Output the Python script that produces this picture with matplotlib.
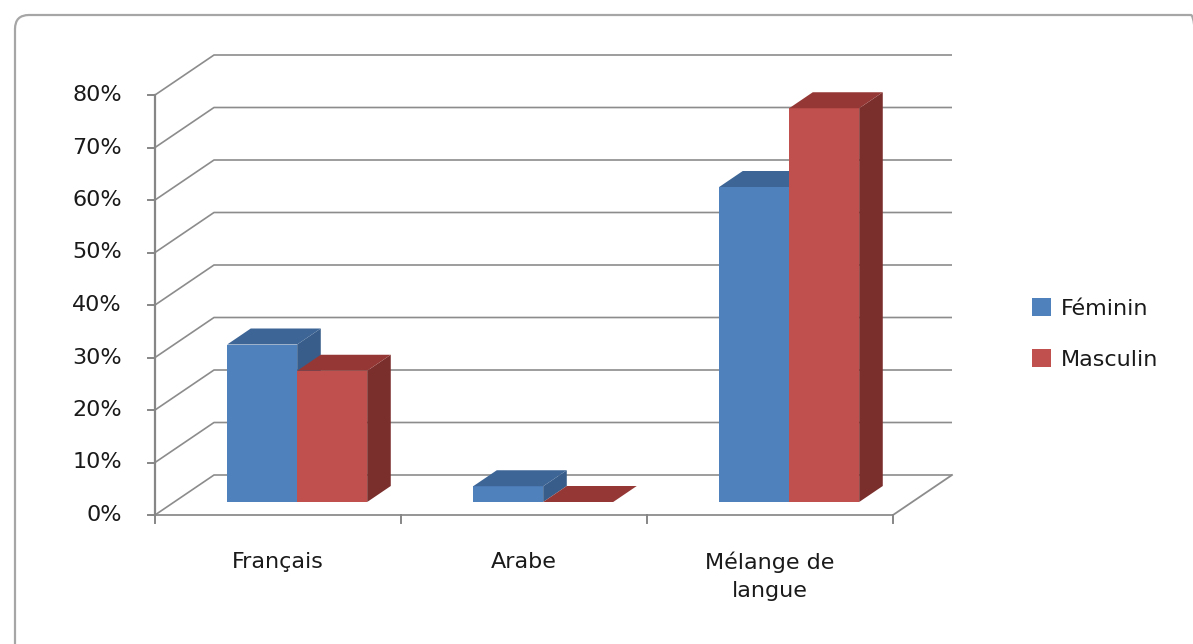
import matplotlib
matplotlib.use("Agg")
import matplotlib.pyplot as plt
from matplotlib.patches import Polygon, Patch, FancyBboxPatch

# --- data -------------------------------------------------------------
categories = ["Français", "Arabe", "Mélange de\nlangue"]
series_names = ["Féminin", "Masculin"]
feminin = [30, 3, 60]
masculin = [25, 0, 75]
y_ticks = [0, 10, 20, 30, 40, 50, 60, 70, 80]
y_tick_labels = [f"{v}%" for v in y_ticks]

# --- styling ----------------------------------------------------------
W, H, DPI = 1193, 644, 100
face_colors = {"Féminin": ("#4F81BD", "#3D6596", "#385D8A"),
               "Masculin": ("#C0504D", "#953835", "#7B2F2D")}
grid_color = "#8C8C8C"
text_color = "#1A1A1A"
FONT = 16

# oblique projection of the plot box: (x, value, depth) -> 2D data coords
DX = 59 / 246          # horizontal shift for full depth, in category units
DY = 40 / 5.25         # vertical shift for full depth, in percent units
BAR_W = 70 / 246
BAR_D0, BAR_D1 = 0.325, 0.725


def P(x, v, d):
    return (x + d * DX, v + d * DY)


fig = plt.figure(figsize=(W / DPI, H / DPI), dpi=DPI)
ax = fig.add_axes([0, 0, 1, 1])
ax.set_xlim((0 - 155) / 246 - 0.5, (W - 155) / 246 - 0.5)
ax.set_ylim((515 - H) / 5.25, (515 - 0) / 5.25)
ax.axis("off")

# chart frame (pixel coordinates, origin bottom-left)
frame = FancyBboxPatch((15, -40), 1190, H - 15 + 40,
                       boxstyle="round,pad=0,rounding_size=14",
                       transform=None, fill=False, ec="#A6A6A6", lw=1.6)
fig.patches.append(frame)

x0, x1 = -0.5, len(categories) - 0.5
vmax = y_ticks[-1]

# side wall + back wall gridlines
for v in y_ticks:
    pts = [P(x0, v, 0), P(x0, v, 1), P(x1, v, 1)]
    ax.plot(*zip(*pts), color=grid_color, lw=1.2, solid_capstyle="butt", zorder=1)

# floor edges
ax.plot(*zip(P(x0, 0, 0), P(x1, 0, 0), P(x1, 0, 1)), color=grid_color, lw=1.3, zorder=1)

# vertical axis with ticks
ax.plot(*zip(P(x0, 0, 0), P(x0, vmax, 0)), color="#868686", lw=1.6, zorder=2)
for v, lab in zip(y_ticks, y_tick_labels):
    ax.plot([x0 - 0.03, x0], [v, v], color="#868686", lw=1.4, zorder=2)
    ax.text(x0 - 0.135, v, lab, ha="right", va="center", fontsize=FONT,
            color=text_color)

# category ticks and labels
for i in range(len(categories) + 1):
    ax.plot([x0 + i, x0 + i], [0, -1.5], color="#868686", lw=1.4, zorder=2)
for i, cat in enumerate(categories):
    ax.text(i, -7.0, cat, ha="center", va="top", fontsize=FONT, color=text_color,
            linespacing=1.5)


def draw_bar(xl, value, colors, z):
    front, top, side = colors
    xr = xl + BAR_W
    ax.add_patch(Polygon([P(xl, 0, BAR_D0), P(xr, 0, BAR_D0), P(xr, value, BAR_D0),
                          P(xl, value, BAR_D0)], closed=True, fc=front, ec="none", zorder=z))
    ax.add_patch(Polygon([P(xr, 0, BAR_D0), P(xr, 0, BAR_D1), P(xr, value, BAR_D1),
                          P(xr, value, BAR_D0)], closed=True, fc=side, ec="none", zorder=z))
    ax.add_patch(Polygon([P(xl, value, BAR_D0), P(xr, value, BAR_D0), P(xr, value, BAR_D1),
                          P(xl, value, BAR_D1)], closed=True, fc=top, ec="none", zorder=z))


series = [feminin, masculin]
for i in range(len(categories)):
    for s, (name, vals) in enumerate(zip(series_names, series)):
        xl = i - BAR_W + s * BAR_W
        draw_bar(xl, vals[i], face_colors[name], 3 + s)

# legend
handles = [Patch(fc=face_colors[n][0], ec="none") for n in series_names]
leg = fig.legend(handles, series_names, loc="center left",
                 bbox_to_anchor=(1012 / W, 1 - 334 / H), frameon=False,
                 fontsize=FONT, handlelength=0.85, handleheight=0.85,
                 handletextpad=0.45, labelspacing=1.35)
for t in leg.get_texts():
    t.set_color(text_color)

fig.savefig("out.png", dpi=DPI)
